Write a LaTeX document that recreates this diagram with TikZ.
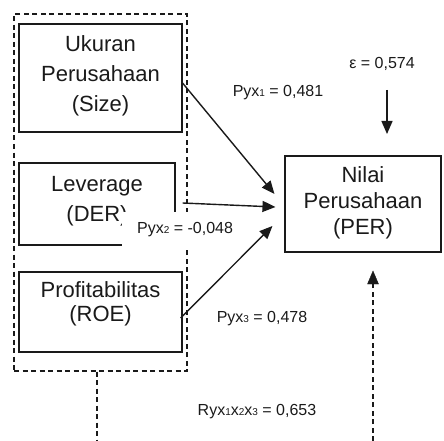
\documentclass[tikz,border=0pt]{standalone}
\usepackage{fontspec}
\setmainfont{Liberation Sans}
\usetikzlibrary{arrows.meta}
\newcommand{\mysub}[1]{{\fontsize{10}{10}\selectfont #1}}
\definecolor{ink}{HTML}{1A1A1A}
\tikzset{
  box/.style={draw=ink, line width=1.1pt, inner sep=0pt},
  frame/.style={draw=ink, line width=1.1pt, dash pattern=on 5pt off 3.5pt, inner sep=0pt},
  big/.style={text=ink, align=center, inner sep=0pt, font=\fontsize{22}{30}\selectfont},
  lab/.style={text=ink, inner sep=0pt, font=\fontsize{16}{19}\selectfont},
  tip/.tip={Triangle[length=13pt,width=11pt]},
  arr/.style={draw=ink, line width=1.4pt, arrows={-tip}},
  darr/.style={draw=ink, line width=1.4pt, dash pattern=on 5pt off 3.5pt}
}
\begin{document}
\begin{tikzpicture}[x=1pt,y=-1pt]
\useasboundingbox (0,0) rectangle (444,441);
% frame
\node[frame, minimum width=173pt, minimum height=357pt] (frame) at (100.5,192.5) {};
% boxes
\node[box, minimum width=163pt, minimum height=108pt] (size) at (100.5,78) {};
\node[box, minimum width=156pt, minimum height=82pt] (der) at (97,204) {};
\node[box, minimum width=163pt, minimum height=80pt] (roe) at (100.5,312) {};
\node[box, minimum width=156pt, minimum height=96pt] (nilai) at (363,204) {};
% box texts
\node[big] (tsize) at (100.5,76) {Ukuran\\Perusahaan\\(Size)};
\node[big] (tder) at (97,201) {Leverage\\(DER)};
\node[big, font=\fontsize{22}{24}\selectfont] (troe) at (100.5,304) {Profitabilitas\\(ROE)};
\node[big, font=\fontsize{22}{26}\selectfont] (tnilai) at (363,203) {Nilai\\Perusahaan\\(PER)};
% arrows
\draw[arr] ([yshift=-5pt]size.east) -- ([xshift=-10pt,yshift=10pt]nilai.west);
\draw[arr] ([xshift=7pt,yshift=1pt]der.east) -- ([xshift=-9pt,yshift=-3pt]nilai.west);
\draw[arr] ([xshift=-2pt,yshift=-6pt]roe.east) -- ([xshift=-12pt,yshift=-22pt]nilai.west);
% epsilon
\coordinate (e1) at (387,90);
\coordinate (e2) at (387,134);
\draw[arr] (e1) -- (e2);
\node[lab] (eps) at (382,64) {ε = 0,574};
% dashed links
\coordinate (d1) at (97,441);
\draw[darr] (frame.south -| d1) -- (d1);
\coordinate (u1) at (373,441);
\coordinate (u2) at (373,284);
\coordinate (u3) at (373,271);
\draw[darr] (u1) -- (u2);
\draw[ink, fill=ink] (u3) -- ++(-5.5,13) -- ++(11,0) -- cycle;
% labels
\node[lab] (p1) at (278,93) {Pyx\mysub{1} = 0,481};
\node[lab] (p3) at (262,319) {Pyx\mysub{3} = 0,478};
\node[lab] (r) at (257,412) {Ryx\mysub{1}x\mysub{2}x\mysub{3} = 0,653};
\node[lab, fill=white, anchor=west, inner xsep=15pt, minimum height=37pt] (p2) at (122,230) {Pyx\mysub{2} = -0,048};
\end{tikzpicture}
\end{document}
